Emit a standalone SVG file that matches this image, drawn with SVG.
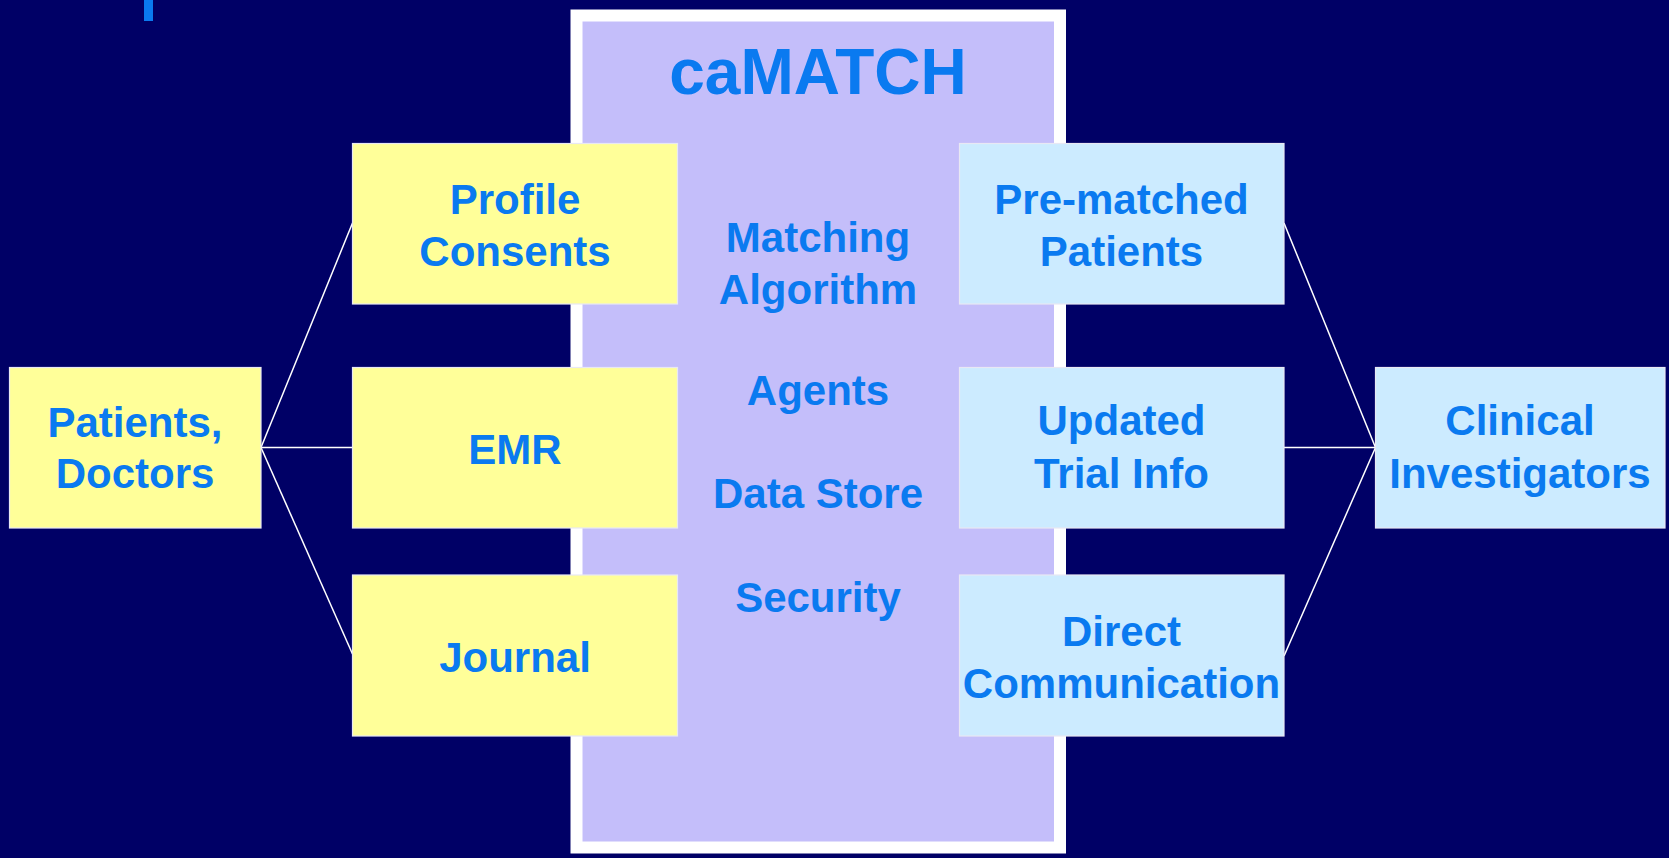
<svg xmlns="http://www.w3.org/2000/svg" width="1669" height="858" viewBox="0 0 1669 858">
<style>
.bg{fill:#000066}
.y{fill:#FFFF99;stroke:#E8E8F4;stroke-width:1.2}
.b{fill:#CCEBFF;stroke:#E8E8F4;stroke-width:1.2}
.t{font-family:"Liberation Sans",Arial,sans-serif;font-weight:bold;font-size:42px;fill:#0A7AF0;text-anchor:middle}
.c{stroke:#FFFFFF;stroke-width:1.5;fill:none}
</style>
<rect class="bg" x="0" y="0" width="1669" height="858"/>
<rect x="144" y="0" width="9" height="21" fill="#0A7AF0"/>
<g id="camatch">
<rect x="576.5" y="15.5" width="483.5" height="832" fill="#C4BEFA" stroke="#FFFFFF" stroke-width="12"/>
<text class="t" x="818" y="94" style="font-size:64px">caMATCH</text>
<text class="t" x="818" y="252">Matching</text>
<text class="t" x="818" y="304">Algorithm</text>
<text class="t" x="818" y="405">Agents</text>
<text class="t" x="818" y="508">Data Store</text>
<text class="t" x="818" y="611.5">Security</text>
</g>
<g id="connectors">
<line class="c" x1="261" y1="447.5" x2="352.5" y2="223"/>
<line class="c" x1="261" y1="447.5" x2="352.5" y2="447.5"/>
<line class="c" x1="261" y1="447.5" x2="352.5" y2="654"/>
<line class="c" x1="1284" y1="223" x2="1375.5" y2="447.5"/>
<line class="c" x1="1284" y1="447.5" x2="1375.5" y2="447.5"/>
<line class="c" x1="1284" y1="656" x2="1375.5" y2="447.5"/>
</g>
<g id="patients-doctors">
<rect class="y" x="9.5" y="367.5" width="251.5" height="160.5"/>
<text class="t" x="135" y="436.5">Patients,</text>
<text class="t" x="135" y="488.3">Doctors</text>
</g>
<g id="profile-consents">
<rect class="y" x="352.5" y="143.5" width="325" height="160.5"/>
<text class="t" x="515" y="214">Profile</text>
<text class="t" x="515" y="265.7">Consents</text>
</g>
<g id="emr">
<rect class="y" x="352.5" y="367.5" width="325" height="160.5"/>
<text class="t" x="515" y="464">EMR</text>
</g>
<g id="journal">
<rect class="y" x="352.5" y="575" width="325" height="161"/>
<text class="t" x="515" y="671.7">Journal</text>
</g>
<g id="pre-matched-patients">
<rect class="b" x="959.5" y="143.5" width="324.5" height="160.5"/>
<text class="t" x="1121.5" y="214">Pre-matched</text>
<text class="t" x="1121.5" y="265.7">Patients</text>
</g>
<g id="updated-trial-info">
<rect class="b" x="959.5" y="367.5" width="324.5" height="160.5"/>
<text class="t" x="1121.5" y="435">Updated</text>
<text class="t" x="1121.5" y="488.3">Trial Info</text>
</g>
<g id="direct-communication">
<rect class="b" x="959.5" y="575" width="324.5" height="161"/>
<text class="t" x="1121.5" y="646">Direct</text>
<text class="t" x="1121.5" y="697.5">Communication</text>
</g>
<g id="clinical-investigators">
<rect class="b" x="1375.5" y="367.5" width="289.5" height="160.5"/>
<text class="t" x="1520" y="435">Clinical</text>
<text class="t" x="1520" y="488.3">Investigators</text>
</g>
</svg>
